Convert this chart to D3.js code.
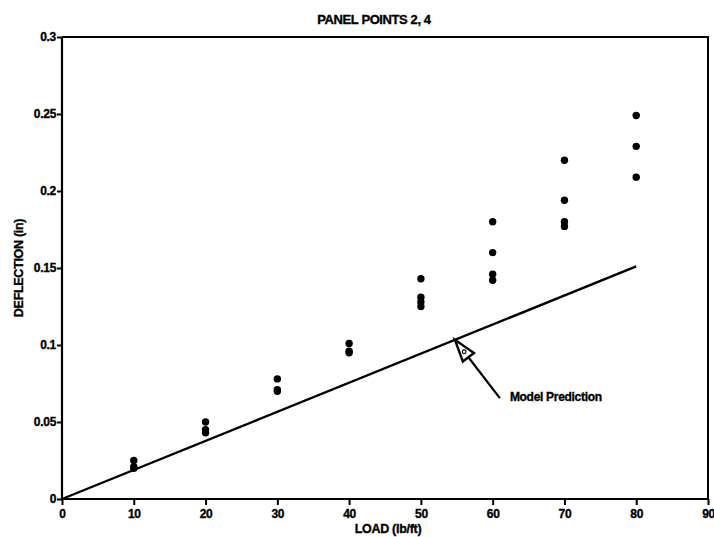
<!DOCTYPE html>
<html>
<head>
<meta charset="utf-8">
<script src="https://cdnjs.cloudflare.com/ajax/libs/d3/7.8.5/d3.min.js"></script>
<style>
  body { margin: 0; background: #fff; }
  text { font-family: "Liberation Sans", Arial, sans-serif; font-weight: bold; fill: #000; stroke: #000; stroke-width: 0.35; }
</style>
</head>
<body>
<div class="chart"></div>
<script>
// measured deflections (in) for each load step
var loads = [10, 20, 30, 40, 50, 60, 70, 80];
var deflections = [
  [0.025, 0.021, 0.020],
  [0.050, 0.045, 0.043],
  [0.078, 0.071, 0.070],
  [0.101, 0.096, 0.095],
  [0.143, 0.131, 0.128, 0.125],
  [0.180, 0.160, 0.146, 0.142],
  [0.220, 0.194, 0.180, 0.177],
  [0.249, 0.229, 0.209]
];

// model prediction line
var modelLoad = [0, 80];
var modelDefl = [0, 0.151];

var xTicks = [0, 10, 20, 30, 40, 50, 60, 70, 80, 90];
var yTicks = [0, 0.05, 0.1, 0.15, 0.2, 0.25, 0.3];

var svgWidth = 714;
var svgHeight = 537;
var margin = { top: 37, right: 6, bottom: 38, left: 62 };
var width = svgWidth - margin.left - margin.right;
var height = svgHeight - margin.top - margin.bottom;

var svg = d3.select(".chart")
  .append("svg")
  .attr("width", svgWidth)
  .attr("height", svgHeight);

var chartGroup = svg.append("g")
  .attr("transform", `translate(${margin.left}, ${margin.top})`);

var xScale = d3.scaleLinear().domain([0, 90]).range([0, width]);
var yScale = d3.scaleLinear().domain([0, 0.3]).range([height, 0]);

// frame (top and right)
chartGroup.append("path")
  .attr("d", `M0,0H${width}V${height}`)
  .attr("fill", "none")
  .attr("stroke", "#000")
  .attr("stroke-width", 2);

// axes
var bottomAxis = d3.axisBottom(xScale).tickValues(xTicks).tickSize(6).tickPadding(4)
  .tickFormat(d3.format("d"));
var leftAxis = d3.axisLeft(yScale).tickValues(yTicks).tickSize(5).tickPadding(1)
  .tickFormat(d => d === 0 ? "0" : String(+d.toFixed(2)));

var xAxisG = chartGroup.append("g")
  .attr("transform", `translate(0, ${height})`)
  .call(bottomAxis);
var yAxisG = chartGroup.append("g").call(leftAxis);

[xAxisG, yAxisG].forEach(function(g) {
  g.select(".domain").attr("stroke-width", 2.2).attr("d",
    g === xAxisG ? `M0,0H${width}` : `M0,0V${height}`);
  g.selectAll(".tick line").attr("stroke-width", 2);
  g.selectAll(".tick text")
    .attr("font-size", 12)
    .attr("font-family", "Liberation Sans, Arial, sans-serif")
    .attr("font-weight", "bold")
    .attr("letter-spacing", -0.3);
});

// model prediction line
var line = d3.line()
  .x(d => xScale(d[0]))
  .y(d => yScale(d[1]));

chartGroup.append("path")
  .datum(d3.zip(modelLoad, modelDefl))
  .attr("d", line)
  .attr("fill", "none")
  .attr("stroke", "#000")
  .attr("stroke-width", 2.4);

// data points
var points = [];
loads.forEach(function(l, i) {
  deflections[i].forEach(function(v) { points.push({ load: l, defl: v }); });
});

chartGroup.selectAll("circle")
  .data(points)
  .enter()
  .append("circle")
  .attr("cx", d => xScale(d.load))
  .attr("cy", d => yScale(d.defl))
  .attr("r", 3.7)
  .attr("fill", "#000");

// annotation arrow
var tipLoad = 54.75;
var tip = [xScale(tipLoad), yScale(tipLoad * modelDefl[1] / modelLoad[1])];
var tail = [xScale(61.0), yScale(0.0655)];
var dx = tail[0] - tip[0], dy = tail[1] - tip[1];
var len = Math.sqrt(dx * dx + dy * dy);
var ux = dx / len, uy = dy / len;
var headLen = 22, headHalf = 7;
var base = [tip[0] + ux * headLen, tip[1] + uy * headLen];
var c1 = [base[0] - uy * headHalf, base[1] + ux * headHalf];
var c2 = [base[0] + uy * headHalf, base[1] - ux * headHalf];

chartGroup.append("line")
  .attr("x1", base[0]).attr("y1", base[1])
  .attr("x2", tail[0]).attr("y2", tail[1])
  .attr("stroke", "#000")
  .attr("stroke-width", 2.2);

chartGroup.append("path")
  .attr("d", `M${tip}L${c1}L${c2}Z`)
  .attr("fill", "#fff")
  .attr("stroke", "#000")
  .attr("stroke-width", 2.4)
  .attr("stroke-linejoin", "miter");

chartGroup.append("circle")
  .attr("cx", tip[0] + ux * 15)
  .attr("cy", tip[1] + uy * 15)
  .attr("r", 1.8)
  .attr("fill", "none")
  .attr("stroke", "#000")
  .attr("stroke-width", 1.2);

chartGroup.append("text")
  .attr("x", xScale(62.4))
  .attr("y", yScale(0.0637))
  .attr("font-size", 12)
  .attr("letter-spacing", -0.3)
  .text("Model Prediction");

// title
svg.append("text")
  .attr("x", margin.left + width / 2 - 11)
  .attr("y", 24)
  .attr("text-anchor", "middle")
  .attr("font-size", 13)
  .attr("letter-spacing", -0.4)
  .text("PANEL POINTS 2, 4");

// axis labels
svg.append("text")
  .attr("x", 388)
  .attr("y", 533)
  .attr("text-anchor", "middle")
  .attr("font-size", 12.5)
  .attr("letter-spacing", -0.3)
  .text("LOAD (lb/ft)");

svg.append("text")
  .attr("transform", "translate(23, 268) rotate(-90)")
  .attr("text-anchor", "middle")
  .attr("font-size", 12.5)
  .attr("letter-spacing", -0.3)
  .text("DEFLECTION (in)");
</script>
</body>
</html>
